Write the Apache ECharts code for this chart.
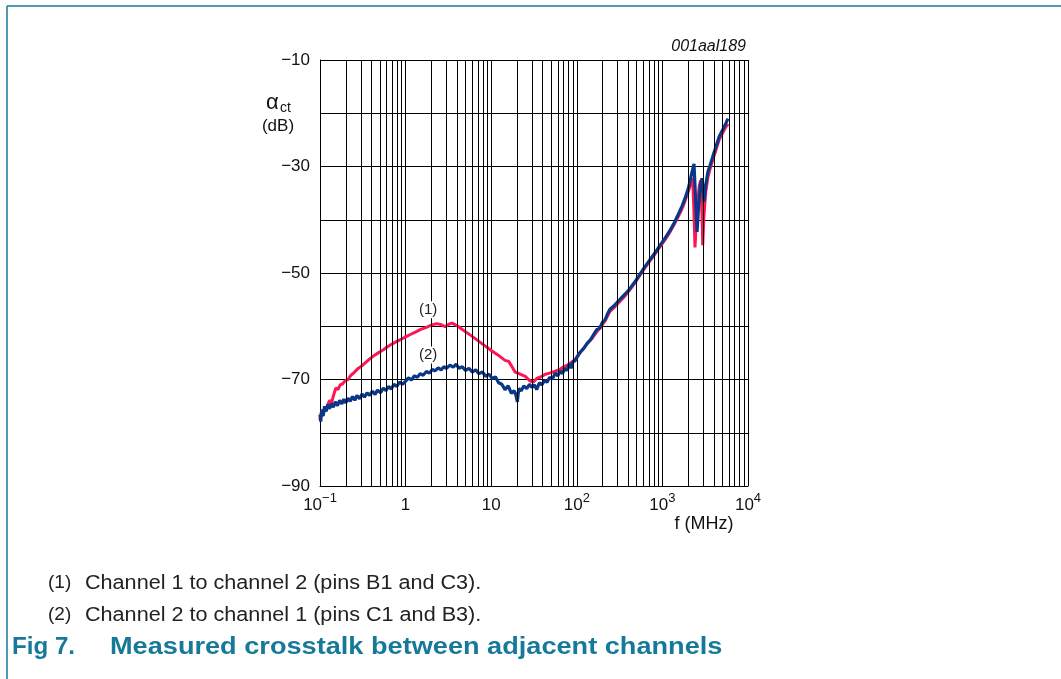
<!DOCTYPE html>
<html><head><meta charset="utf-8">
<script src="https://cdn.jsdelivr.net/npm/echarts@6/dist/echarts.min.js"></script>
<style>html,body{margin:0;padding:0;background:#fff}#c{width:1061px;height:679px}</style>
</head><body><div id="c"></div>
<script>
// Channel 1 -> channel 2 (red, curve (1))
const ch1Freq = [0.1,0.104,0.108,0.113,0.118,0.124,0.13,0.137,0.145,0.153,0.162,0.172,0.184,0.197,0.212,0.23,0.25,0.275,0.3,0.33,0.37,0.42,0.48,0.55,0.62,0.7,0.8,0.9,1.0,1.15,1.3,1.5,1.75,2.0,2.3,2.6,2.9,3.2,3.5,4.0,4.6,5.2,6.0,7.0,8.0,9.0,10.5,12.5,14.5,16.0,17.5,19.0,20.5,22.5,25.0,28.0,31.0,34.0,38.0,43.0,48.0,55.0,62.0,70.0,78.0,86.0,95.0,105,118,132,150,172,195,214,244,280,320,370,418,480,547,620,716,820,937,1080,1227,1370,1521,1700,1837,2000,2150,2260,2330,2403,2480,2580,2700,2800,2880,2960,3050,3200,3400,3600,3900,4200,4600,5100,5500,5840];
const ch1Db = [-77.6,-76.0,-76.9,-75.4,-75.8,-74.6,-73.9,-74.3,-72.8,-71.6,-71.9,-71.0,-70.8,-70.2,-70.0,-69.2,-68.7,-68.0,-67.6,-67.0,-66.3,-65.6,-65.0,-64.4,-63.8,-63.3,-62.8,-62.4,-62.0,-61.5,-61.1,-60.6,-60.2,-59.8,-59.5,-59.7,-60.1,-59.6,-59.4,-59.9,-60.6,-61.2,-61.9,-62.7,-63.4,-64.0,-64.8,-65.6,-66.4,-66.6,-67.6,-68.6,-68.8,-69.1,-69.4,-70.2,-70.5,-69.8,-69.5,-69.0,-68.8,-68.5,-68.2,-67.6,-67.3,-66.8,-66.3,-65.3,-64.3,-63.3,-62.3,-61.0,-59.9,-59.0,-57.2,-56.3,-55.3,-54.2,-53.1,-51.8,-50.4,-49.1,-47.7,-46.4,-45.1,-43.7,-42.3,-40.9,-39.5,-37.9,-36.5,-34.8,-33.2,-32.2,-38.0,-45.2,-41.0,-36.5,-33.6,-32.6,-37.5,-44.8,-39.5,-35.0,-32.0,-30.5,-28.6,-27.0,-25.0,-23.6,-22.6,-22.0];
// Channel 2 -> channel 1 (blue, curve (2))
const ch2Freq = [0.1,0.102,0.105,0.109,0.113,0.118,0.123,0.129,0.136,0.143,0.151,0.16,0.17,0.18,0.19,0.2,0.212,0.225,0.24,0.255,0.27,0.29,0.31,0.33,0.355,0.38,0.41,0.44,0.47,0.51,0.55,0.59,0.63,0.68,0.73,0.79,0.85,0.92,1.0,1.08,1.17,1.27,1.37,1.48,1.6,1.75,1.9,2.05,2.2,2.4,2.6,2.8,3.0,3.3,3.6,3.9,4.2,4.6,5.0,5.5,6.0,6.6,7.2,7.9,8.6,9.4,10.3,11.2,12.2,13.3,14.5,15.8,17.2,18.5,19.5,20.2,21.0,22.5,24.0,26.0,28.0,30.0,32.0,34.0,36.5,39.0,42.0,45.0,48.0,52.0,56.0,60.0,64.0,68.0,72.0,77.0,82.0,86.0,90.0,95.0,100,109,120,132,145,158,172,185,200,214,228,244,270,300,340,380,418,480,547,620,716,820,937,1080,1227,1370,1521,1700,1837,2000,2100,2220,2340,2440,2540,2650,2780,2900,2980,3060,3200,3400,3600,3900,4200,4600,5100,5500,5840];
const ch2Db = [-76.6,-77.9,-75.6,-76.8,-75.0,-76.0,-74.7,-75.5,-74.5,-75.2,-74.2,-74.9,-73.9,-74.6,-73.7,-74.4,-73.5,-74.1,-73.2,-73.9,-73.0,-73.6,-72.7,-73.3,-72.5,-73.0,-72.2,-72.8,-72.0,-72.5,-71.6,-72.1,-71.3,-71.8,-70.9,-71.3,-70.5,-70.9,-70.3,-69.7,-70.1,-69.3,-69.6,-68.9,-69.2,-68.5,-68.8,-68.1,-68.4,-67.8,-68.2,-67.6,-67.9,-67.3,-67.7,-67.1,-67.9,-67.6,-68.3,-67.9,-68.6,-68.2,-68.9,-68.6,-69.4,-69.0,-69.8,-69.5,-70.6,-70.9,-71.9,-71.2,-72.6,-72.1,-73.0,-74.2,-71.7,-72.1,-71.2,-71.7,-70.9,-71.5,-71.0,-71.9,-70.6,-71.0,-70.2,-70.5,-69.6,-69.9,-68.8,-69.3,-68.4,-68.9,-67.9,-68.3,-67.0,-67.9,-66.7,-66.5,-65.9,-64.9,-64.2,-63.2,-62.5,-61.5,-60.6,-60.4,-59.2,-58.8,-57.7,-56.8,-56.2,-55.4,-54.5,-53.7,-52.9,-51.6,-50.2,-48.9,-47.5,-46.2,-44.8,-43.4,-42.0,-40.6,-39.1,-37.4,-36.0,-34.2,-32.8,-31.0,-29.5,-36.0,-42.3,-37.5,-33.6,-32.2,-34.2,-36.6,-33.6,-31.0,-29.8,-28.0,-26.4,-24.4,-23.0,-21.9,-21.0];

const xTickBase = {'0.1':'10','1':'1','10':'10','100':'10','1000':'10','10000':'10'};
const xTickExp  = {'0.1':'−1','1':'','10':'','100':'2','1000':'3','10000':'4'};
const yTickValues = [-10,-30,-50,-70,-90];
const yTickLabels = ['−10','−30','−50','−70','−90'];
const minorGridFreqs = [0.2,0.3,0.4,0.5,0.6,0.7,0.8,0.9,2,3,4,5,6,7,8,9,20,30,40,50,60,70,80,90,200,300,400,500,600,700,800,900,2000,3000,4000,5000,6000,7000,8000,9000];
const annoText = ['(1)','(2)'];
const annoFreq = [1.83,1.83];
const annoDb = [-56.9,-65.4];

const FONT = 'Liberation Sans, Arial, Helvetica, sans-serif';
const RED = '#ff1555';
const BLUE = '#0a3888';
const TEAL = '#17799a';

const zip = (a,b) => a.map((v,i)=>[v,b[i]]);

const chart = echarts.init(document.getElementById('c'), null, {renderer:'canvas'});
chart.setOption({
  animation:false,
  backgroundColor:'#fff',
  grid:{left:320, right:313, top:60, bottom:193, containLabel:false},
  xAxis:{
    type:'log', logBase:10, min:0.1, max:10000,
    axisLine:{show:true, lineStyle:{color:'#000', width:1}},
    axisTick:{show:false},
    splitLine:{show:true, lineStyle:{color:'#000', width:1}},
    axisLabel:{
      margin:6, color:'#111', fontFamily:FONT,
      formatter:function(v){
        const k = String(+v.toPrecision(6));
        const b = xTickBase[k] || '', e = xTickExp[k] || '';
        return e ? '{b|'+b+'}{s|'+e+'}' : '{b|'+b+'}';
      },
      rich:{
        b:{fontSize:17, lineHeight:27, fontFamily:FONT, color:'#111'},
        s:{fontSize:13, lineHeight:13, verticalAlign:'top', fontFamily:FONT, color:'#111'}
      }
    }
  },
  yAxis:{
    type:'value', min:-90, max:-10, interval:10,
    axisLine:{show:true, lineStyle:{color:'#000', width:1}},
    axisTick:{show:false},
    splitLine:{show:true, lineStyle:{color:'#000', width:1}},
    axisLabel:{
      margin:10, fontSize:17, color:'#111', fontFamily:FONT,
      formatter:function(v){
        const i = yTickValues.indexOf(Math.round(v));
        return i >= 0 ? yTickLabels[i] : '';
      }
    }
  },
  series:[
    {
      type:'line', data:[], silent:true, z:1,
      markLine:{
        silent:true, symbol:['none','none'], animation:false,
        label:{show:false},
        lineStyle:{type:'solid', color:'#000', width:1},
        emphasis:{disabled:true},
        data: minorGridFreqs.map(f=>({xAxis:f}))
      }
    },
    {
      name:'(1)', type:'line', data:zip(ch1Freq,ch1Db), showSymbol:false, symbol:'none',
      lineStyle:{color:RED, width:3}, z:3
    },
    {
      name:'(2)', type:'line', data:zip(ch2Freq,ch2Db), showSymbol:false, symbol:'none',
      lineStyle:{color:BLUE, width:3.2}, z:4,
      markPoint:{
        symbol:'rect', symbolSize:[24,17], silent:true,
        itemStyle:{color:'#fff'},
        label:{show:true, position:'inside', color:'#222', fontSize:15, fontFamily:FONT,
          formatter:function(p){return p.name;}},
        data: annoText.map((t,i)=>({name:t, coord:[annoFreq[i], annoDb[i]]}))
      }
    }
  ],
  graphic:[
    {type:'line', shape:{x1:7,y1:6,x2:1061,y2:6}, style:{stroke:TEAL, lineWidth:1.5}, silent:true},
    {type:'line', shape:{x1:7,y1:6,x2:7,y2:679}, style:{stroke:TEAL, lineWidth:1.5}, silent:true},
    {type:'text', x:746, y:47, style:{text:'001aal189', font:'italic 16px '+FONT, fill:'#111', align:'right', verticalAlign:'middle'}},
    {type:'text', x:266, y:103, style:{text:'α', font:'22px '+FONT, fill:'#111', align:'left', verticalAlign:'middle'}},
    {type:'text', x:280, y:108, style:{text:'ct', font:'14px '+FONT, fill:'#111', align:'left', verticalAlign:'middle'}},
    {type:'text', x:278, y:126, style:{text:'(dB)', font:'17px '+FONT, fill:'#111', align:'center', verticalAlign:'middle'}},
    {type:'text', x:704, y:524, style:{text:'f (MHz)', font:'18px '+FONT, fill:'#111', align:'center', verticalAlign:'middle'}},
    {type:'text', x:48, y:583, style:{text:'(1)', font:'19px '+FONT, fill:'#222', align:'left', verticalAlign:'middle'}},
    {type:'text', x:85, y:583, scaleX:1.08, style:{text:'Channel 1 to channel 2 (pins B1 and C3).', font:'20px '+FONT, fill:'#222', align:'left', verticalAlign:'middle'}},
    {type:'text', x:48, y:615, style:{text:'(2)', font:'19px '+FONT, fill:'#222', align:'left', verticalAlign:'middle'}},
    {type:'text', x:85, y:615, scaleX:1.08, style:{text:'Channel 2 to channel 1 (pins C1 and B3).', font:'20px '+FONT, fill:'#222', align:'left', verticalAlign:'middle'}},
    {type:'text', x:12, y:648, scaleX:1.05, style:{text:'Fig 7.', font:'bold 23px '+FONT, fill:TEAL, align:'left', verticalAlign:'middle'}},
    {type:'text', x:110, y:648, scaleX:1.18, style:{text:'Measured crosstalk between adjacent channels', font:'bold 23px '+FONT, fill:TEAL, align:'left', verticalAlign:'middle'}}
  ]
});
</script></body></html>
